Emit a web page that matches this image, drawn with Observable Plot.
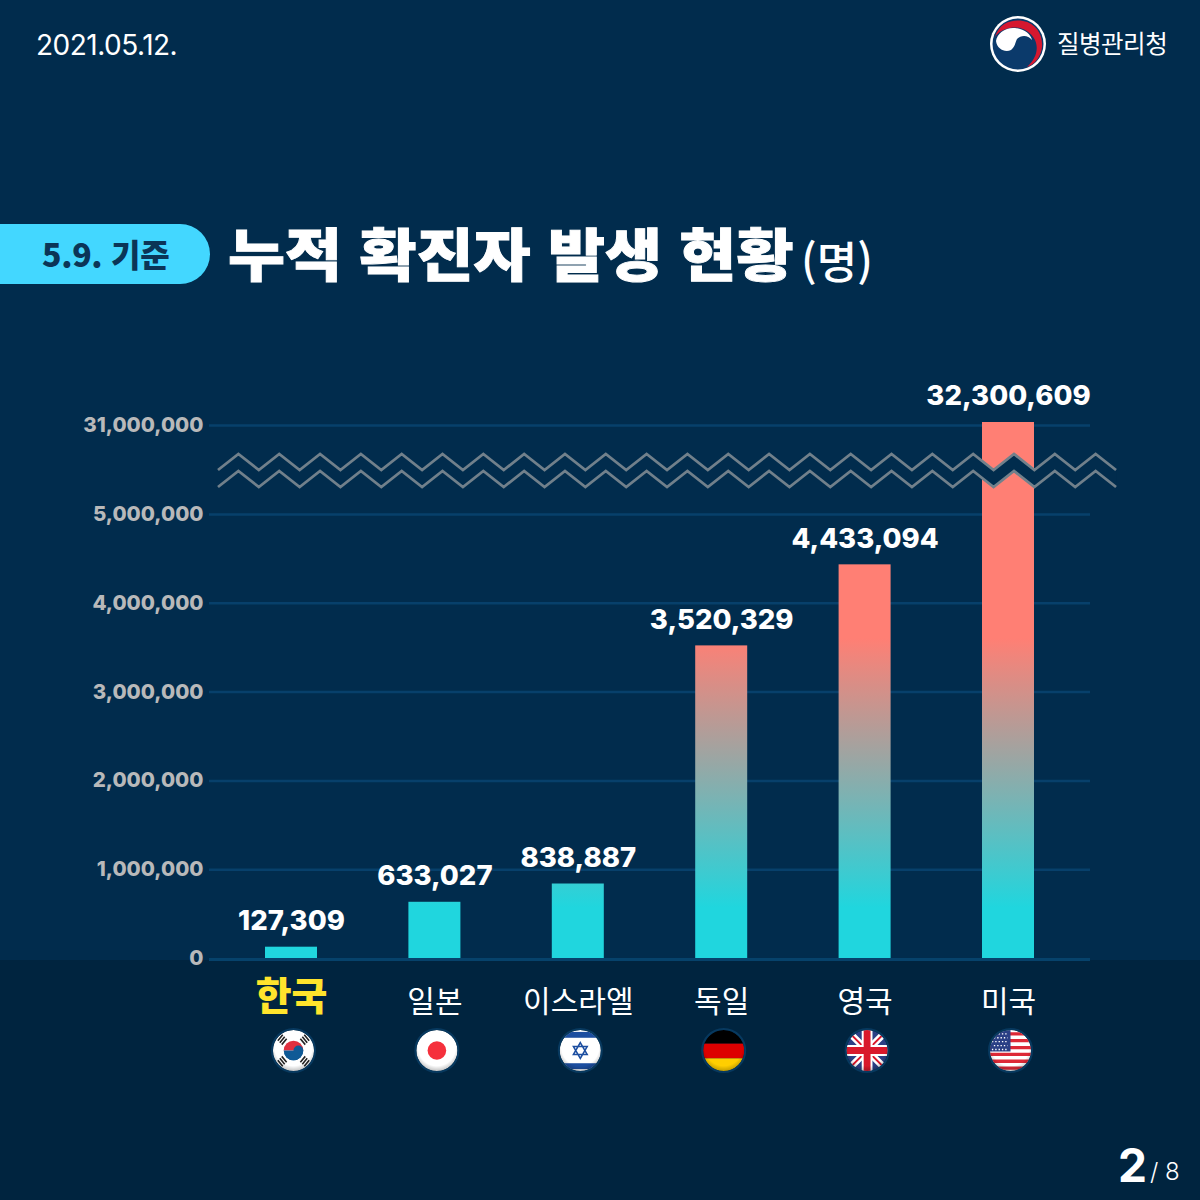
<!DOCTYPE html>
<html lang="ko">
<head>
<meta charset="utf-8">
<script src="https://cdn.jsdelivr.net/npm/d3@7"></script>
<script src="https://cdn.jsdelivr.net/npm/@observablehq/plot@0.6"></script>
<style>
  html, body { margin: 0; padding: 0; }
  body {
    width: 1200px; height: 1200px; position: relative; overflow: hidden;
    background: linear-gradient(#012c4d 960px, #00243f 960px);
    font-family: Inter, "Noto Sans CJK KR", sans-serif; color: #fff;
  }
  #chart { position: absolute; left: 0; top: 0; }
  #chart svg { background: transparent; display: block; }
  .ko { font-family: "Noto Sans CJK KR", sans-serif; }
  .abs { position: absolute; white-space: nowrap; line-height: 1; }
  #date { left: 36px; top: 31px; font-size: 28px; letter-spacing: -0.5px; }
  #logo { left: 988px; top: 14px; }
  #agency { left: 1057px; top: 31px; font-size: 24.5px; letter-spacing: -0.5px; }
  #pill {
    left: 0; top: 224px; width: 210px; height: 60px; border-radius: 0 30px 30px 0;
    background: #43d7ff; color: #0b3557;
  }
  #pill span { position: absolute; left: 42px; top: 13px; font-size: 32px; font-weight: 900; letter-spacing: -0.3px; }
  #title {
    left: 228px; top: 223px; font-size: 62px; font-weight: 900; -webkit-text-stroke: 1px #fff;
    transform: scaleY(0.92); transform-origin: left top;
  }
  #unit { left: 801px; top: 238px; font-size: 44px; font-weight: 500; }
  #page { left: 1118px; top: 1142px; font-size: 46px; font-weight: 700; }
  #total { left: 1150px; top: 1160px; font-size: 24px; font-weight: 300; }
</style>
</head>
<body>
<div id="chart"></div>
<div class="abs" id="date">2021.05.12.</div>
<svg class="abs" id="logo" width="60" height="60" viewBox="-30 -30 60 60">
  <circle r="28" fill="#fff"/>
  <circle r="25.5" fill="#0b3a6b"/>
  <path d="M-23 -7 C-19 -21 -6 -25 5 -23 C18 -21 25 -9 24 3 C23 13 16 21 9 23 C18 15 21 5 17 -4 C12 -14 1 -18 -8 -16 C-14 -15 -20 -12 -23 -7Z" fill="#d6182f"/>
  <path d="M-22 -3 C-21 -11 -12 -17 -3 -16 C7 -15 13 -9 14 -4 C10 -9 3 -9 -1 -5 C-3 -1 -3 3 -7 6 C-13 9 -21 5 -22 -3Z" fill="#fff"/>
</svg>
<div class="abs ko" id="agency">질병관리청</div>
<div class="abs ko" id="pill"><span>5.9. 기준</span></div>
<div class="abs ko" id="title">누적 확진자 발생 현황</div>
<div class="abs ko" id="unit">(명)</div>
<div class="abs" id="page">2</div>
<div class="abs" id="total">/ 8</div>
<script>
const countries = ["한국", "일본", "이스라엘", "독일", "영국", "미국"];
const cases = [127309, 633027, 838887, 3520329, 4433094, 32300609];
const yTicks = [0, 1000000, 2000000, 3000000, 4000000, 5000000, 31000000];
const gridTicks = [1000000, 2000000, 3000000, 4000000, 5000000, 31000000];
// the axis is broken between 5M and 31M, so values are squeezed before the y scale
const breakValues = [0, 5000000, 31000000, 32300609];
const breakHeights = [0, 444, 533, 536];
const squeeze = d3.scaleLinear().domain(breakValues).range(breakHeights);

const flagBodies = [
  `<rect width="44" height="44" fill="#fff"/>
   <path d="M12 22a10 10 0 0 1 20 0z" fill="#e0303f"/><path d="M12 22a10 10 0 0 0 20 0z" fill="#0f5a96"/>
   <path d="M12 22a5 5 0 0 0 10 0a5 5 0 0 1 10 0a10 10 0 0 1-20 0z" fill="#0f5a96"/>
   <g stroke="#222" stroke-width="1.6"><path d="M6 12l5-6M8 14l5-6M10 16l5-6M31 8l5 6M29 10l5 6M33 6l5 6M6 32l5 6M8 30l5 6M10 28l5 6M31 36l5-6M29 34l5-6M33 38l5-6"/></g>`,
  `<rect width="44" height="44" fill="#fff"/><circle cx="22" cy="22" r="9.5" fill="#f5303c"/>`,
  `<rect width="44" height="44" fill="#fff"/><rect y="3" width="44" height="6" fill="#1c4ea0"/><rect y="35" width="44" height="6" fill="#1c4ea0"/>
   <path d="M22 14l7 12H15zM22 30l-7-12h14z" fill="none" stroke="#1c4ea0" stroke-width="1.6"/>`,
  `<rect width="44" height="15" fill="#000"/><rect y="15" width="44" height="15" fill="#dd0000"/><rect y="30" width="44" height="14" fill="#ffce00"/>`,
  `<rect width="44" height="44" fill="#2a3f85"/>
   <path d="M0 0L44 44M44 0L0 44" stroke="#fff" stroke-width="7"/><path d="M0 0L44 44M44 0L0 44" stroke="#d9182b" stroke-width="2"/>
   <path d="M22 0V44M0 22H44" stroke="#fff" stroke-width="11"/><path d="M22 0V44M0 22H44" stroke="#d9182b" stroke-width="7"/>`,
  `<rect width="44" height="44" fill="#fff"/>
   <path d="M0 5H44M0 12H44M0 19H44M0 26H44M0 33H44M0 40H44" stroke="#dd2836" stroke-width="3.4"/>
   <rect width="22" height="23" fill="#2a3f85"/>
   <path d="M3 5h16M5 9h14M3 13h16M5 17h14M3 21h16" stroke="#fff" stroke-width="1.4" stroke-dasharray="1.4 2"/>`
];

const flagSrc = flagBodies.map((body, i) => "data:image/svg+xml," + encodeURIComponent(
  `<svg xmlns="http://www.w3.org/2000/svg" viewBox="-2 -2 48 48" width="48" height="48">
   <defs><clipPath id="c${i}"><circle cx="22" cy="22" r="21"/></clipPath>
   <radialGradient id="s${i}" cx="0.5" cy="0.42" r="0.58"><stop offset="0.75" stop-color="#000" stop-opacity="0"/><stop offset="1" stop-color="#000" stop-opacity="0.28"/></radialGradient></defs>
   <g clip-path="url(#c${i})">${body}<rect width="44" height="44" fill="url(#s${i})"/></g>
   <circle cx="22" cy="22" r="22" fill="none" stroke="#07395f" stroke-width="2"/></svg>`));

const table = countries.map((name, i) => ({name, value: cases[i], flag: flagSrc[i]}));
const commas = d3.format(",");

// gradient runs in y-scale values so every tall bar shares the same colour band
function barGradient(index, {y}) {
  const defs = d3.create("svg:defs");
  const g = defs.append("linearGradient").attr("id", "barFill")
    .attr("gradientUnits", "userSpaceOnUse")
    .attr("x1", 0).attr("x2", 0).attr("y1", y(squeeze(570000))).attr("y2", y(squeeze(3600000)));
  g.append("stop").attr("offset", 0).attr("stop-color", "#20d6de");
  g.append("stop").attr("offset", 1).attr("stop-color", "#ff7f74");
  return defs.node();
}

// axis break: two zigzags with the gap filled, so the tallest bar looks cut
function axisBreak(index, {y}, values, {marginLeft}) {
  const xStart = marginLeft + 9, xEnd = 1116, pitch = 20.41, rise = 16, gap = 17;
  const yBase = y(squeeze(5000000)) - 44;
  const upper = [];
  for (let i = 0, px = xStart; px < xEnd + 1; i++, px += pitch) {
    upper.push([px, yBase - (i % 2 ? rise : 0)]);
  }
  const lower = upper.map(([a, b]) => [a, b + gap]);
  const line = d3.line();
  const g = d3.create("svg:g");
  g.append("path").attr("d", line(upper.concat(lower.slice().reverse())) + "Z").attr("fill", "#012c4d");
  for (const pts of [upper, lower]) {
    g.append("path").attr("d", line(pts)).attr("fill", "none")
      .attr("stroke", "#71808b").attr("stroke-width", 2.8);
  }
  return g.node();
}

const plot = Plot.plot({
  width: 1200,
  height: 1200,
  marginLeft: 209,
  marginRight: 110,
  marginTop: 0,
  marginBottom: 242,
  style: {background: "transparent", overflow: "visible"},
  x: {domain: countries, range: [173.6, 1125.4], padding: 0.6374, round: false, label: null, axis: null},
  y: {transform: squeeze, range: [958, 422], label: null, axis: null},
  marks: [
    barGradient,
    Plot.ruleY(gridTicks, {stroke: "#07406b", strokeWidth: 2.5}),
    Plot.ruleY([0], {stroke: "#06426b", strokeWidth: 3, dy: 1}),
    Plot.barY(table, {x: "name", y: "value", fill: "url(#barFill)"}),
    axisBreak,
    Plot.text(yTicks, {
      y: d => d, text: commas, frameAnchor: "left", textAnchor: "end", dx: -6, lineAnchor: "middle",
      fontSize: 20.5, fontWeight: 800, fill: "#b8b9ba", fontFamily: "Inter, sans-serif"
    }),
    Plot.text(table, {
      x: "name", y: "value", text: d => commas(d.value), dy: -26, lineAnchor: "middle",
      fontSize: 27.5, fontWeight: 800, fill: "#fff", fontFamily: "Inter, sans-serif"
    }),
    Plot.text(table.filter(d => d.name === "한국"), {
      x: "name", y: () => 0, text: "name", dy: 39, lineAnchor: "middle",
      fontSize: 39, fontWeight: 900, fill: "#ffe42c", fontFamily: "'Noto Sans CJK KR', sans-serif"
    }),
    Plot.text(table.filter(d => d.name !== "한국"), {
      x: "name", y: () => 0, text: "name", dy: 44, lineAnchor: "middle",
      fontSize: 30, fontWeight: 400, fill: "#fff", fontFamily: "'Noto Sans CJK KR', sans-serif"
    }),
    Plot.image(table, {x: "name", y: () => 0, src: "flag", dx: 2, dy: 92, width: 47, height: 47})
  ]
});

document.querySelector("#chart").append(plot);
</script>
</body>
</html>
